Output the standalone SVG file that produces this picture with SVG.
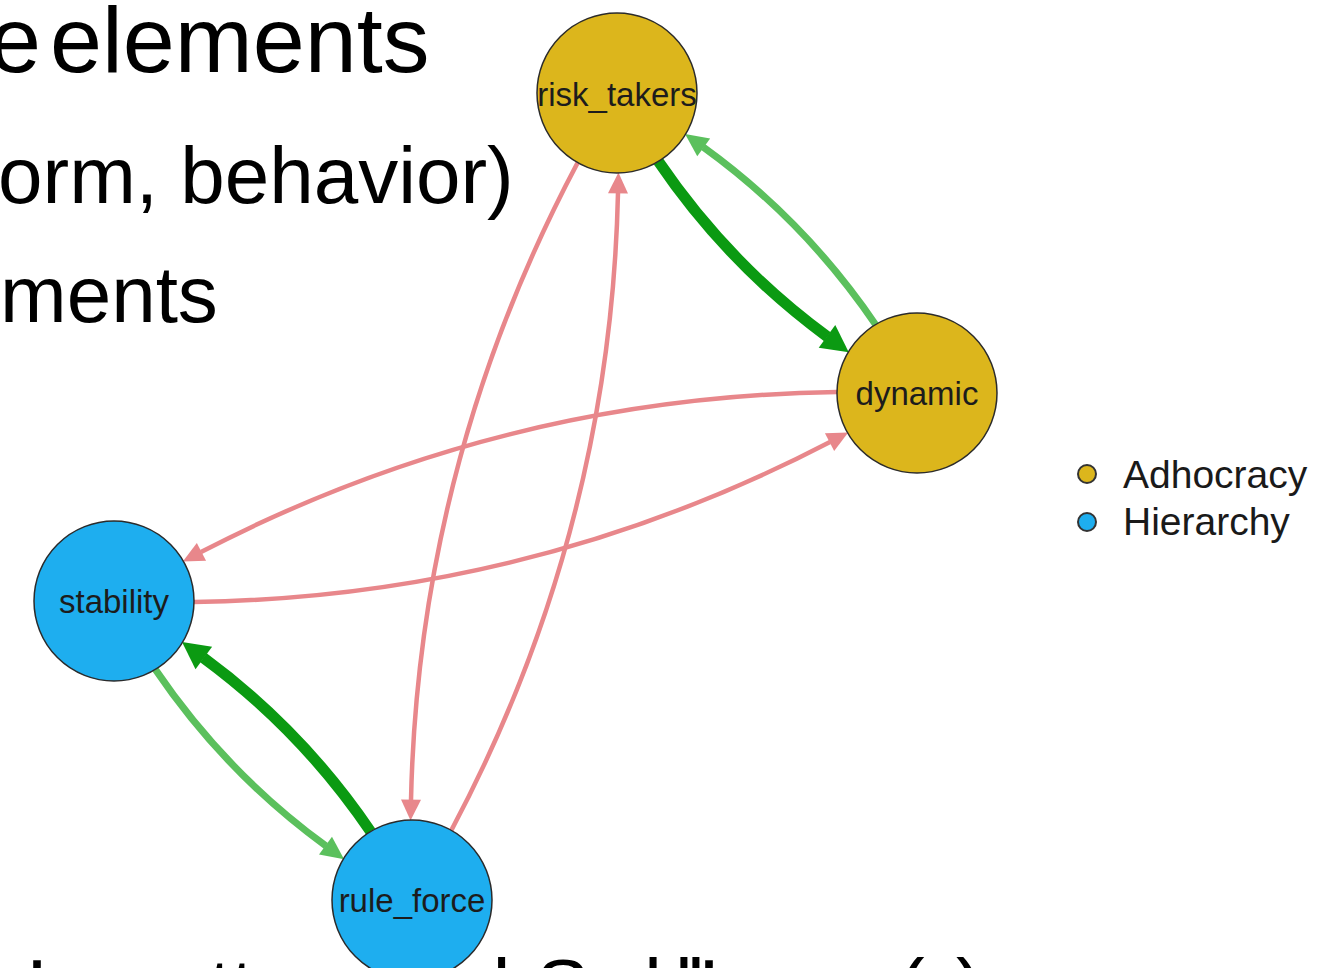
<svg xmlns="http://www.w3.org/2000/svg" width="1344" height="968" viewBox="0 0 1344 968">
  <style>
    .slide { font-family: "Liberation Sans", Arial, sans-serif; fill: #000; }
    .node circle { stroke: #2b2b2b; stroke-width: 1.5; }
    .adhoc { fill: #DCB61C; }
    .hier { fill: #1EAEEF; }
    .label { font-family: "Liberation Sans", Arial, sans-serif; font-size: 33px; fill: #1c1c1c; text-anchor: middle; }
    .edge { fill: none; stroke-linecap: butt; }
    .neg { stroke: #E8878B; stroke-width: 4.5; marker-end: url(#arrow-neg); }
    .pos-weak { stroke: #5BC05D; stroke-width: 7; marker-end: url(#arrow-weak); }
    .pos-strong { stroke: #0B9A12; stroke-width: 11; marker-end: url(#arrow-strong); }
    .legend text { font-family: "Liberation Sans", Arial, sans-serif; font-size: 39px; fill: #1a1a1a; }
    .legend circle { stroke: #333; stroke-width: 2; }
  </style>
  <defs>
    <marker id="arrow-neg" markerUnits="userSpaceOnUse" viewBox="0 -10 21 20" markerWidth="21" markerHeight="20" refX="0.5" refY="0" orient="auto" overflow="visible">
      <path d="M0,-10 L21,0 L0,10 z" fill="#E8878B"/>
    </marker>
    <marker id="arrow-weak" markerUnits="userSpaceOnUse" viewBox="0 -11 23 22" markerWidth="23" markerHeight="22" refX="0.5" refY="0" orient="auto" overflow="visible">
      <path d="M0,-11 L23,0 L0,11 z" fill="#5BC05D"/>
    </marker>
    <marker id="arrow-strong" markerUnits="userSpaceOnUse" viewBox="0 -14 27 28" markerWidth="27" markerHeight="28" refX="0.5" refY="0" orient="auto" overflow="visible">
      <path d="M0,-14 L27,0 L0,14 z" fill="#0B9A12"/>
    </marker>
  </defs>

  <rect width="1344" height="968" fill="#ffffff"/>

  <!-- slide bullet text behind the network plot -->
  <g id="slide-text" class="slide">
    <text font-size="93.5" y="72"><tspan x="-11">e</tspan><tspan x="50">elements</tspan></text>
    <text font-size="80" x="-2" y="203">orm, behavior)</text>
    <text font-size="80" x="0" y="322">ments</text>
    <text font-size="80" y="1015"><tspan x="28">’s</tspan><tspan x="120">pattern</tspan><tspan x="377">and</tspan><tspan x="536 588 644 660 675 687 700 716">Schell’s</tspan><tspan x="898 922 956">(s)</tspan></text>
  </g>

  <!-- directed, curved connectors -->
  <g id="edges">
    <path id="e-risk-dyn" class="edge pos-strong" d="M658.4,161.4 Q728.1,263.9 827.4,336.7"/>
    <path id="e-dyn-risk" class="edge pos-weak" d="M875.6,324.6 Q804.8,220.5 703.3,147.1"/>
    <path id="e-stab-rule" class="edge pos-weak" d="M155.4,669.5 Q225.5,772.8 325.9,845.9"/>
    <path id="e-rule-stab" class="edge pos-strong" d="M370.6,831.5 Q301.6,729.9 203.4,657.7"/>
    <path id="e-risk-rule" class="edge neg" d="M577.7,162.6 Q418.5,462.2 411.0,800.1"/>
    <path id="e-rule-risk" class="edge neg" d="M451.3,830.4 Q610.5,530.8 618.0,192.9"/>
    <path id="e-dyn-stab" class="edge neg" d="M837.1,392.0 Q499.6,396.7 201.0,552.1"/>
    <path id="e-stab-dyn" class="edge neg" d="M193.9,602.0 Q531.4,597.3 830.0,441.9"/>
  </g>

  <!-- nodes -->
  <g id="risk_takers" class="node">
    <circle cx="617" cy="93" r="80" class="adhoc"/>
    <text class="label" x="617" y="106">risk_takers</text>
  </g>
  <g id="dynamic" class="node">
    <circle cx="917" cy="393" r="80" class="adhoc"/>
    <text class="label" x="917" y="405">dynamic</text>
  </g>
  <g id="stability" class="node">
    <circle cx="114" cy="601" r="80" class="hier"/>
    <text class="label" x="114" y="613">stability</text>
  </g>
  <g id="rule_force" class="node">
    <circle cx="412" cy="900" r="80" class="hier"/>
    <text class="label" x="412" y="912">rule_force</text>
  </g>

  <!-- legend -->
  <g id="legend" class="legend">
    <circle cx="1087" cy="474" r="9" class="adhoc"/>
    <text x="1123" y="488">Adhocracy</text>
    <circle cx="1087" cy="522" r="9" class="hier"/>
    <text x="1123" y="535">Hierarchy</text>
  </g>
</svg>
